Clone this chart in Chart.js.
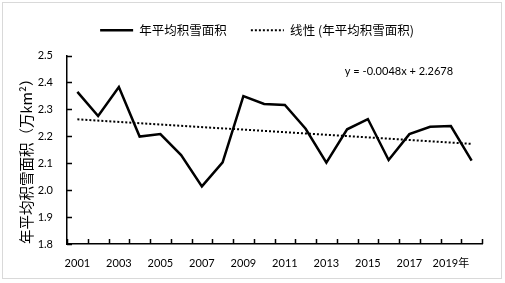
<!DOCTYPE html>
<html>
<head>
<meta charset="utf-8">
<script src="https://cdn.jsdelivr.net/npm/chart.js@4.4.0/dist/chart.umd.min.js"></script>
<style>
  html, body { margin: 0; padding: 0; background: #fff; }
  canvas { display: block; }
</style>
</head>
<body>
<canvas id="chart" width="505" height="283"></canvas>
<script>
// data
const years = ['2001', '2002', '2003', '2004', '2005', '2006', '2007', '2008', '2009', '2010',
  '2011', '2012', '2013', '2014', '2015', '2016', '2017', '2018', '2019年', '2020'];
const snowArea = [2.365, 2.275, 2.383, 2.199, 2.208, 2.13, 2.014, 2.103, 2.349, 2.32,
  2.316, 2.228, 2.102, 2.226, 2.264, 2.112, 2.208, 2.235, 2.238, 2.11];
// linear trend, only the two ends (straight line between them)
const trend = [2.263, null, null, null, null, null, null, null, null, null,
  null, null, null, null, null, null, null, null, null, 2.172];
const yTicks = [1.8, 1.9, 2.0, 2.1, 2.2, 2.3, 2.4, 2.5];
const seriesName = '年平均积雪面积';
const trendName = '线性 (年平均积雪面积)';
const equation = 'y = -0.0048x + 2.2678';
const yTitle = '年平均积雪面积（万km²）';

const latin = "Lato, 'Noto Sans CJK SC', sans-serif";
const cjk = "'Noto Sans CJK SC', sans-serif";

// extra room under the legend, legend nudged right a bit
const legendGap = {
  id: 'legendGap',
  beforeInit(chart) {
    const fit = chart.legend.fit;
    chart.legend.fit = function () {
      fit.bind(chart.legend)();
      this.height += 9;
    };
  },
  afterLayout(chart) {
    chart.legend.left += 9;
    chart.legend.right += 9;
  },
};

// outer frame + equation text + inward tick marks
const extras = {
  id: 'extras',
  beforeDraw(chart) {
    const ctx = chart.ctx;
    ctx.save();
    ctx.fillStyle = '#fff';
    ctx.fillRect(0, 0, chart.width, chart.height);
    ctx.strokeStyle = '#d9d9d9';
    ctx.lineWidth = 1;
    ctx.strokeRect(2.5, 2.5, 499, 276);
    ctx.restore();
  },
  afterDraw(chart) {
    const ctx = chart.ctx;
    const x = chart.scales.x;
    const y = chart.scales.y;
    ctx.save();
    ctx.strokeStyle = '#000';
    ctx.lineWidth = 1.5;
    ctx.beginPath();
    for (let i = 0; i <= years.length; i++) {
      const px = Math.round(x.getPixelForValue(i - 0.5)) + 0.5;
      ctx.moveTo(px, y.bottom);
      ctx.lineTo(px, y.bottom - 5);
    }
    yTicks.forEach((v) => {
      const py = Math.round(y.getPixelForValue(v)) + 0.5;
      ctx.moveTo(x.left, py);
      ctx.lineTo(x.left + 5, py);
    });
    ctx.stroke();

    ctx.fillStyle = '#000';
    ctx.font = '11px ' + latin;
    ctx.textAlign = 'center';
    ctx.textBaseline = 'middle';
    ctx.fillText(equation, 399, 71);
    ctx.restore();
  },
};

new Chart(document.getElementById('chart'), {
  type: 'line',
  data: {
    labels: years,
    datasets: [
      {
        label: seriesName,
        data: snowArea,
        borderColor: '#000',
        backgroundColor: '#000',
        borderWidth: 2.5,
        pointRadius: 0,
        tension: 0,
      },
      {
        label: trendName,
        data: trend,
        spanGaps: true,
        borderColor: '#000',
        backgroundColor: '#000',
        borderWidth: 2,
        borderDash: [2, 2],
        pointRadius: 0,
      },
    ],
  },
  options: {
    responsive: false,
    animation: false,
    layout: { padding: { left: 14, right: 23, top: 0, bottom: 0 } },
    plugins: {
      legend: {
        position: 'top',
        labels: {
          boxWidth: 33,
          boxHeight: 0,
          padding: 24,
          color: '#000',
          font: { family: cjk, size: 12.5 },
        },
      },
      tooltip: { enabled: false },
    },
    scales: {
      x: {
        offset: true,
        afterFit: (scale) => { scale.height = 39; },
        grid: { display: false, drawTicks: false },
        border: { color: '#000', width: 1.5 },
        ticks: {
          color: '#000',
          autoSkip: false,
          maxRotation: 0,
          padding: 13,
          font: { family: latin, size: 11 },
          callback: (v, i) => (i % 2 === 0 ? years[i] : ''),
        },
      },
      y: {
        min: 1.8,
        max: 2.5,
        afterFit: (scale) => { scale.width = 53; },
        grid: { display: false, drawTicks: false },
        border: { color: '#000', width: 1.5 },
        ticks: {
          stepSize: 0.1,
          color: '#000',
          padding: 14,
          font: { family: latin, size: 11 },
          callback: (v) => Number(v).toFixed(1),
        },
        title: {
          display: true,
          text: yTitle,
          align: 'start',
          color: '#000',
          padding: { top: 4, bottom: 0 },
          font: { family: cjk, size: 14.5 },
        },
      },
    },
  },
  plugins: [legendGap, extras],
});
</script>
</body>
</html>
